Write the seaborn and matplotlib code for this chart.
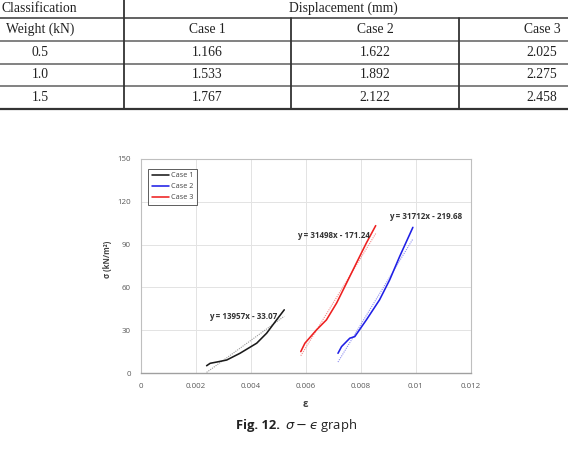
import matplotlib
matplotlib.use("Agg")
import matplotlib.pyplot as plt
from matplotlib.lines import Line2D
import numpy as np
import pandas as pd
import seaborn as sns

# ---------------- data ----------------
table_weights = ["0.5", "1.0", "1.5"]
table_case1 = ["1.166", "1.533", "1.767"]
table_case2 = ["1.622", "1.892", "2.122"]
table_case3 = ["2.025", "2.275", "2.458"]

case_names = ["Case 1", "Case 2", "Case 3"]

case1_eps = [0.00240, 0.00253, 0.00280, 0.00313, 0.00361, 0.00422, 0.00458, 0.00494, 0.00522]
case1_sig = [5.1, 6.8, 7.8, 9.1, 13.8, 20.9, 27.9, 37.2, 44.3]

case2_eps = [0.00717, 0.00730, 0.00760, 0.00778, 0.00820, 0.00868, 0.00905, 0.00941, 0.00989]
case2_sig = [13.8, 18.5, 24.4, 25.5, 37.2, 51.3, 65.4, 81.7, 102.1]

case3_eps = [0.00582, 0.00597, 0.00639, 0.00675, 0.00712, 0.00748, 0.00784, 0.00820, 0.00854]
case3_sig = [15.0, 20.9, 30.2, 37.2, 49.0, 63.0, 77.1, 91.1, 103.3]

trend_slopes = [13957, 31712, 31498]
trend_intercepts = [-33.07, -219.68, -171.24]
trend_labels = ["y = 13957x - 33.07", "y = 31712x - 219.68", "y = 31498x - 171.24"]

x_ticks = [0, 0.002, 0.004, 0.006, 0.008, 0.01, 0.012]
x_tick_labels = ["0", "0.002", "0.004", "0.006", "0.008", "0.01", "0.012"]
y_ticks = [0, 30, 60, 90, 120, 150]

# ---------------- figure ----------------
sns.set_style("white")
plt.rcParams["font.family"] = ["Open Sans", "DejaVu Sans"]
plt.rcParams["mathtext.fontset"] = "dejavusans"

W, H = 568, 449
fig = plt.figure(figsize=(W / 100, H / 100), dpi=100)

def fx(px):
    return px / W

def fy(py):
    return 1 - py / H

# ---------------- table ----------------
serif = ["Liberation Serif", "DejaVu Serif"]
tcol = "#222222"
tsize = 9.8

def hline(y, x0, x1, color="#444444", lw=1.2):
    fig.add_artist(Line2D([fx(x0), fx(x1)], [fy(y), fy(y)], color=color, lw=lw))

def vline(x, y0, y1, color="#444444", lw=1.2):
    fig.add_artist(Line2D([fx(x), fx(x)], [fy(y0), fy(y1)], color=color, lw=lw))

hline(17.5, 0, W, "#555555", 1.3)
hline(40.8, 0, W, "#777777", 1.3)
hline(63.5, 0, W, "#777777", 1.3)
hline(86.2, 0, W, "#777777", 1.3)
hline(108.5, 0, W, "#333333", 1.6)
vline(123.5, 0, 108.5, "#333333", 1.3)
vline(291, 17.5, 108.5, "#333333", 1.3)
vline(459, 17.5, 108.5, "#333333", 1.3)

row_y = [29.5, 52.3, 75.0, 97.5]
fig.text(fx(2), fy(8.5), "Classification", family=serif, size=tsize, color=tcol,
         ha="left", va="center")
fig.text(fx(343.5), fy(8.5), "Displacement (mm)", family=serif, size=tsize, color=tcol,
         ha="center", va="center")
col_x = [40.5, 207, 375, 542]
header = ["Weight (kN)"] + case_names
for x, t in zip(col_x, header):
    fig.text(fx(x), fy(row_y[0]), t, family=serif, size=tsize, color=tcol,
             ha="center", va="center")
for i in range(3):
    vals = [table_weights[i], table_case1[i], table_case2[i], table_case3[i]]
    for x, t in zip(col_x, vals):
        fig.text(fx(x), fy(row_y[i + 1]), t, family=serif, size=tsize, color=tcol,
                 ha="center", va="center")

# ---------------- chart ----------------
left, right, top, bottom = 140.5, 471, 159, 373
ax = fig.add_axes([fx(left), fy(bottom), (right - left) / W, (bottom - top) / H])

eps_all = [case1_eps, case2_eps, case3_eps]
sig_all = [case1_sig, case2_sig, case3_sig]
df = pd.concat(
    [pd.DataFrame({"case": n, "strain": e, "stress": s})
     for n, e, s in zip(case_names, eps_all, sig_all)],
    ignore_index=True,
)
palette = {"Case 1": "#1a1a1a", "Case 2": "#1f1fe6", "Case 3": "#ee2020"}
trend_colors = ["#9a9a9a", "#8c8cf0", "#f08c8c"]

sns.lineplot(data=df, x="strain", y="stress", hue="case", palette=palette,
             sort=False, estimator=None, lw=1.15, ax=ax, zorder=3)

for e, m, b, c in zip(eps_all, trend_slopes, trend_intercepts, trend_colors):
    xs = np.array([min(e), max(e)])
    ax.plot(xs, m * xs + b, ls=(0, (1, 1)), lw=0.8, color=c, zorder=2)

ax.set_xlim(0, 0.012)
ax.set_ylim(0, 150)
ax.set_xticks(x_ticks)
ax.set_xticklabels(x_tick_labels)
ax.set_yticks(y_ticks)
ax.grid(True, color="#e3e3e3", lw=0.7)
ax.set_axisbelow(True)
for side in ["top", "right", "left"]:
    ax.spines[side].set_color("#bfbfbf")
    ax.spines[side].set_linewidth(0.8)
ax.spines["bottom"].set_color("#a0a0a0")
ax.spines["bottom"].set_linewidth(1.0)
ax.tick_params(axis="both", length=0, labelsize=5.7, labelcolor="#595959")
ax.tick_params(axis="x", pad=7.5)
ax.tick_params(axis="y", pad=7)

ax.set_xlabel("ε", fontsize=7, fontweight="bold", color="#404040")
ax.xaxis.set_label_coords(0.5, -0.12)
ax.set_ylabel("σ (kN/m²)", fontsize=5.6, fontweight="bold", color="#404040")
ax.yaxis.set_label_coords(-0.085, 0.53)

# trendline equations
ann_pos = [(0.00250, 39.5), (0.00902, 109.5), (0.00570, 96.5)]
for (x, y), t in zip(ann_pos, trend_labels):
    ax.text(x, y, t, fontsize=5.8, fontweight="bold", color="#333333",
            ha="left", va="center")

leg = ax.legend(loc="upper left", bbox_to_anchor=(0.012, 0.972), fontsize=5.2,
                frameon=True, fancybox=False, handlelength=2.4, borderpad=0.5,
                labelspacing=0.55, handletextpad=0.3)
leg.get_frame().set_edgecolor("#333333")
leg.get_frame().set_linewidth(0.7)
for t in leg.get_texts():
    t.set_color("#404040")

# ---------------- caption ----------------
fig.text(fx(280), fy(425), "Fig. 12.", fontsize=9.4, fontweight="bold",
         color="#222222", ha="right", va="center")
fig.text(fx(285), fy(425), "$\\sigma - \u03f5$ graph", fontsize=9.4,
         color="#222222", ha="left", va="center")

fig.savefig("out.png", dpi=100)
